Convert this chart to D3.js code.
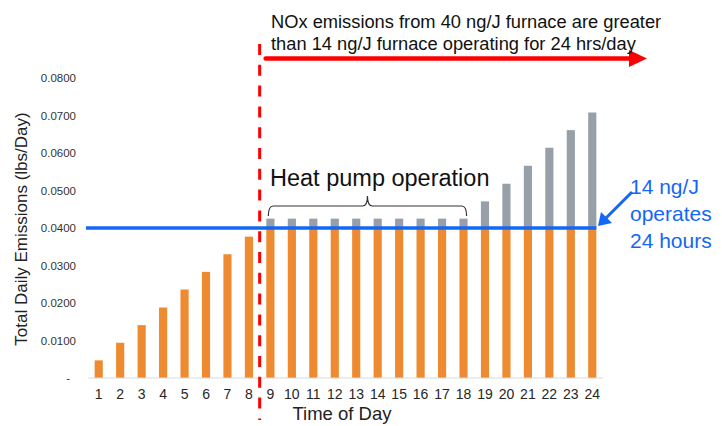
<!DOCTYPE html>
<html>
<head>
<meta charset="utf-8">
<script src="https://cdn.jsdelivr.net/npm/d3@7"></script>
<style>
  html, body { margin: 0; padding: 0; background: #fff; }
  svg { display: block; font-family: "Liberation Sans", Arial, sans-serif; }
</style>
</head>
<body>
<svg id="chart" width="722" height="426"></svg>
<script>
// ---- data ----
const hours = [1,2,3,4,5,6,7,8,9,10,11,12,13,14,15,16,17,18,19,20,21,22,23,24];
// orange part (up to the 14 ng/J line)
const orangeValues = [0.0047,0.0094,0.0141,0.0188,0.0236,0.0283,0.0330,0.0377,
  0.0400,0.0400,0.0400,0.0400,0.0400,0.0400,0.0400,0.0400,0.0400,0.0400,
  0.0400,0.0400,0.0400,0.0400,0.0400,0.0400];
// gray part (above the 14 ng/J line)
const grayValues = [0,0,0,0,0,0,0,0,
  0.0025,0.0025,0.0025,0.0025,0.0025,0.0025,0.0025,0.0025,0.0025,0.0025,
  0.0071,0.0118,0.0166,0.0214,0.0261,0.0308];
const yTicks = [0,0.01,0.02,0.03,0.04,0.05,0.06,0.07,0.08];
const lineValue = 0.04;
const yTitle = "Total Daily Emissions (lbs/Day)";
const xTitle = "Time of Day";
const topNote = ["NOx emissions from 40 ng/J furnace are greater", "than 14 ng/J furnace operating for 24 hrs/day"];
const braceLabel = "Heat pump operation";
const blueNote = ["14 ng/J", "operates", "24 hours"];
const braceFrom = 9, braceTo = 18, splitAfter = 8;

// ---- layout ----
const svg = d3.select("#chart");
const x = d3.scaleBand().domain(hours).range([88, 603]).paddingInner(0.62).paddingOuter(0.31);
const y = d3.scaleLinear().domain([0, 0.08]).range([378, 78]);
const ORANGE = "#EE8A2F", GRAY = "#97A0A8", BLUE = "#1467F5", RED = "#FF0000";

// bars
const rows = hours.map((h, i) => ({h, o: orangeValues[i], g: grayValues[i]}));
svg.append("g").selectAll("rect.o").data(rows).join("rect")
  .attr("x", d => x(d.h)).attr("width", x.bandwidth())
  .attr("y", d => y(d.o)).attr("height", d => y(0) - y(d.o))
  .attr("fill", ORANGE);
svg.append("g").selectAll("rect.g").data(rows.filter(d => d.g > 0)).join("rect")
  .attr("x", d => x(d.h)).attr("width", x.bandwidth())
  .attr("y", d => y(d.o + d.g)).attr("height", d => y(d.o) - y(d.o + d.g))
  .attr("fill", GRAY);

// baseline
svg.append("line").attr("x1", 88).attr("x2", 603).attr("y1", y(0)).attr("y2", y(0))
  .attr("stroke", "#d9d9d9").attr("stroke-width", 1);

// y axis
const yAxis = svg.append("g").attr("transform", "translate(76,0)")
  .call(d3.axisLeft(y).tickValues(yTicks).tickSize(0).tickPadding(0)
    .tickFormat(d => d === 0 ? "-" : d3.format(".4f")(d)));
yAxis.select(".domain").remove();
yAxis.selectAll("text").attr("font-size", 11.5).attr("fill", "#333")
  .attr("font-family", "Liberation Sans, Arial, sans-serif")
  .attr("dx", d => d === 0 ? -6 : 0);

// x axis
const xAxis = svg.append("g").attr("transform", `translate(0,${y(0)})`)
  .call(d3.axisBottom(x).tickSize(0).tickPadding(11));
xAxis.select(".domain").remove();
xAxis.selectAll("text").attr("font-size", 14).attr("fill", "#262626")
  .attr("font-family", "Liberation Sans, Arial, sans-serif");

// axis titles
svg.append("text").attr("transform", "translate(27,229) rotate(-90)")
  .attr("text-anchor", "middle").attr("font-size", 17).attr("fill", "#222").text(yTitle);
svg.append("text").attr("x", 342).attr("y", 420).attr("text-anchor", "middle")
  .attr("font-size", 18.5).attr("fill", "#222").text(xTitle);

// blue 14 ng/J line
const lastX = x(hours[hours.length - 1]) + x.bandwidth();
svg.append("line").attr("x1", 86).attr("x2", lastX).attr("y1", y(lineValue)).attr("y2", y(lineValue))
  .attr("stroke", BLUE).attr("stroke-width", 3.5);

// red dashed split line
const splitX = (x(splitAfter) + x.bandwidth() + x(splitAfter + 1)) / 2;
svg.append("line").attr("x1", splitX).attr("x2", splitX).attr("y1", 44).attr("y2", 420)
  .attr("stroke", RED).attr("stroke-width", 3).attr("stroke-dasharray", "11,9.8");

// red arrow
const arrowY = 58.5;
svg.append("line").attr("x1", splitX + 6).attr("x2", 631).attr("y1", arrowY).attr("y2", arrowY)
  .attr("stroke", RED).attr("stroke-width", 4.5).attr("stroke-linecap", "round");
svg.append("path").attr("d", `M629,${arrowY - 8.5} L647,${arrowY} L629,${arrowY + 8.5} Z`).attr("fill", RED);

// top note
svg.append("text").attr("x", 271).attr("y", 28).attr("font-size", 18.3).attr("fill", "#111")
  .selectAll("tspan").data(topNote).join("tspan")
  .attr("x", 271).attr("dy", (d, i) => i === 0 ? 0 : 21.5).text(d => d);

// brace
const bx1 = x(braceFrom) + 2, bx2 = x(braceTo) + x.bandwidth() - 1, bm = (bx1 + bx2) / 2;
const by0 = 216, by1 = 206, byTip = 196;
svg.append("path")
  .attr("d", `M${bx1},${by0} Q${bx1},${by1} ${bx1 + 5},${by1} L${bm - 5},${by1} Q${bm},${by1} ${bm},${byTip} Q${bm},${by1} ${bm + 5},${by1} L${bx2 - 5},${by1} Q${bx2},${by1} ${bx2},${by0}`)
  .attr("fill", "none").attr("stroke", "#333").attr("stroke-width", 1.2);
svg.append("text").attr("x", 270).attr("y", 186).attr("font-size", 23.5).attr("fill", "#111").text(braceLabel);

// blue note + arrow
svg.append("text").attr("font-size", 21).attr("fill", BLUE)
  .selectAll("tspan").data(blueNote).join("tspan")
  .attr("x", 630).attr("y", (d, i) => 194 + i * 27).text(d => d);
svg.append("line").attr("x1", 632).attr("y1", 192).attr("x2", 606).attr("y2", 218)
  .attr("stroke", BLUE).attr("stroke-width", 3);
svg.append("path").attr("d", "M598,226 L601,212 L612,223 Z").attr("fill", BLUE);
</script>
</body>
</html>
